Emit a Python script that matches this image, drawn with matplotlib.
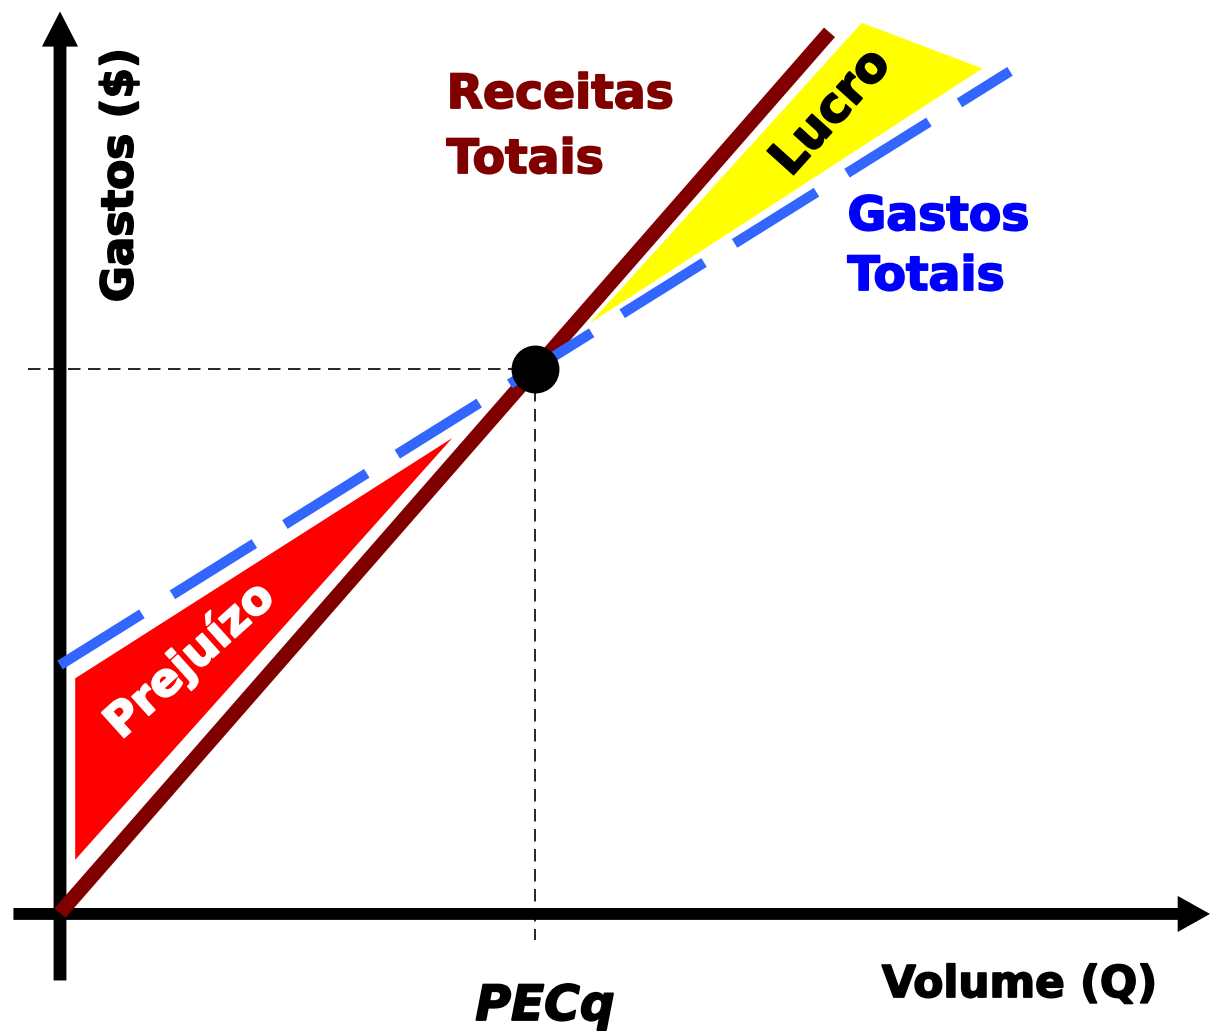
import matplotlib
matplotlib.use("Agg")
import matplotlib.pyplot as plt
from matplotlib.patches import Polygon, FancyArrow
import matplotlib.patheffects as pe

# ---------------- data ----------------
revenue_q = [0, 81]
revenue_values = [0, 92.7]
cost_q = [0, 100]
cost_values = [26.1, 88.6]
pec_q = 50
pec_value = 57.3
loss_region_q = [1.6, 41.3, 1.6]
loss_region_values = [24.7, 50.0, 5.6]
profit_region_q = [55.8, 84.4, 97.1]
profit_region_values = [62.1, 93.7, 88.9]

label_revenue = ["Receitas", "Totais"]
label_cost = ["Gastos", "Totais"]
label_y = "Gastos ($)"
label_x = "Volume (Q)"
label_pec = "PECq"
label_profit = "Lucro"
label_loss = "Prejuízo"

# ---------------- figure ----------------
W, H, DPI = 1210, 1032, 100
S = 9.5  # pixels per unit
ox, oy = 60, 913  # origin pixel

fig = plt.figure(figsize=(W / DPI, H / DPI), dpi=DPI)
ax = fig.add_axes([0, 0, 1, 1])
ax.set_xlim(-ox / S, (W - ox) / S)
ax.set_ylim(-(H - oy) / S, oy / S)
ax.axis("off")

FONT = "DejaVu Sans"


def heavy(color, lw=1.3):
    return [pe.withStroke(linewidth=lw, foreground=color)]


# regions
ax.add_patch(Polygon(list(zip(loss_region_q, loss_region_values)), closed=True,
                     facecolor="#FF0000", edgecolor="none", zorder=1))
ax.add_patch(Polygon(list(zip(profit_region_q, profit_region_values)), closed=True,
                     facecolor="#FFFF00", edgecolor="none", zorder=1))

# axes with arrows
ax.add_patch(FancyArrow(0, -7.1, 0, 94.9 + 7.1, width=1.35, head_width=3.8,
                        head_length=3.7, length_includes_head=True,
                        color="black", zorder=3, linewidth=0))
ax.add_patch(FancyArrow(-4.9, -0.1, 121.05 + 4.9, 0, width=1.25, head_width=3.8,
                        head_length=3.4, length_includes_head=True,
                        color="black", zorder=3, linewidth=0))

# guide lines to break-even
ax.plot([-3.4, pec_q], [pec_value, pec_value], color="black", lw=1.2,
        dashes=(7.5, 4.5), zorder=2)
ax.plot([pec_q, pec_q], [pec_value, -2.85], color="black", lw=1.2,
        dashes=(7.5, 4.5), zorder=2)

# revenue and cost lines
ax.plot(revenue_q, revenue_values, color="#800000", lw=10.5,
        solid_capstyle="butt", zorder=4)
ax.plot(cost_q, cost_values, color="#3366FF", lw=7.4, dashes=(9.4, 3.5),
        dash_capstyle="butt", zorder=5)

# break-even point
ax.plot([pec_q], [pec_value], "o", color="black", markersize=33.5, zorder=6)

# labels
ax.text(40.7, (oy - 108) / S, label_revenue[0], color="#800000", fontsize=34,
        fontweight="bold", family=FONT, ha="left", va="baseline",
        path_effects=heavy("#800000"))
ax.text(40.7, (oy - 173) / S, label_revenue[1], color="#800000", fontsize=34,
        fontweight="bold", family=FONT, ha="left", va="baseline",
        path_effects=heavy("#800000"))
ax.text(82.9, (oy - 230) / S, label_cost[0], color="#0000FF", fontsize=34,
        fontweight="bold", family=FONT, ha="left", va="baseline",
        path_effects=heavy("#0000FF"))
ax.text(82.9, (oy - 290) / S, label_cost[1], color="#0000FF", fontsize=34,
        fontweight="bold", family=FONT, ha="left", va="baseline",
        path_effects=heavy("#0000FF"))

ax.text((120 - ox) / S, (oy - 175) / S, label_y, color="black", fontsize=31.5,
        fontweight="bold", family=FONT, rotation=90, ha="center", va="center",
        path_effects=heavy("black"))
ax.text((1157 - ox) / S, (oy - 997) / S, label_x, color="black", fontsize=31.5,
        fontweight="bold", family=FONT, ha="right", va="baseline",
        path_effects=heavy("black"))
ax.text((545 - ox) / S, (oy - 1020) / S, label_pec, color="black", fontsize=35,
        fontweight="bold", style="italic", family=FONT, ha="center",
        va="baseline", path_effects=heavy("black"))

ax.text((831 - ox) / S, (oy - 112) / S, label_profit, color="black", fontsize=35,
        fontweight="bold", family=FONT, rotation=48, rotation_mode="anchor",
        ha="center", va="center", path_effects=heavy("black"))
ax.text((190 - ox) / S, (oy - 660) / S, label_loss, color="white", fontsize=33,
        fontweight="bold", family=FONT, rotation=42, rotation_mode="anchor",
        ha="center", va="center", path_effects=heavy("white"))

fig.savefig("out.png", dpi=DPI)
